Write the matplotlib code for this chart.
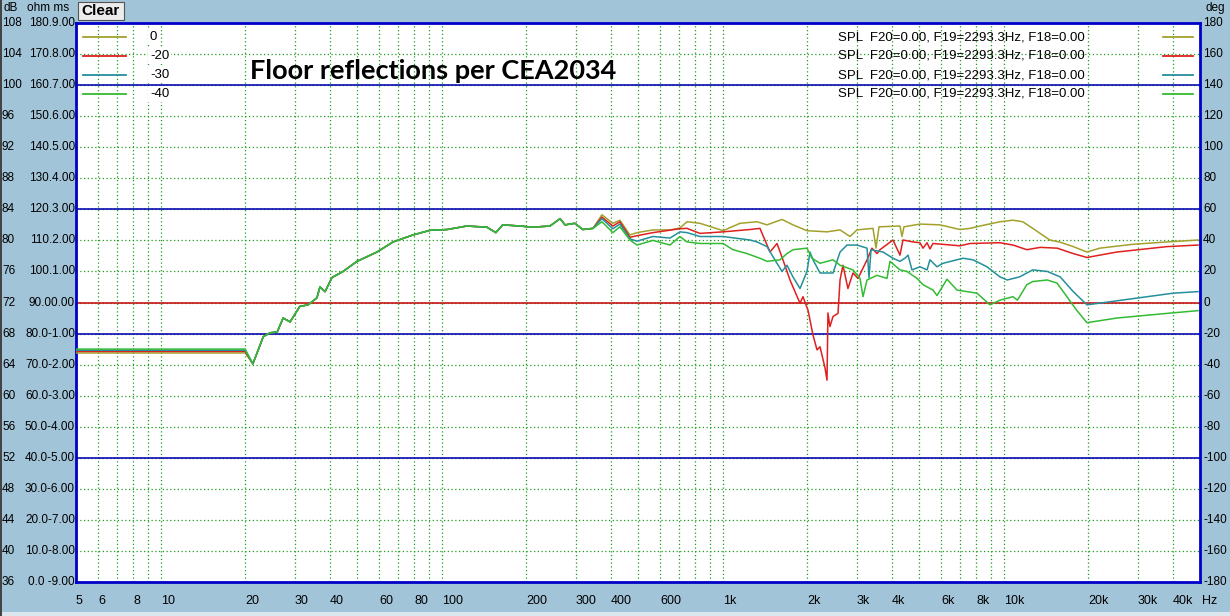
import matplotlib
matplotlib.use("Agg")
import matplotlib.pyplot as plt
import matplotlib.transforms as mtransforms
import numpy as np

W, H = 1230, 616

# --- data -------------------------------------------------------------------
# below 20 Hz every trace is flat
freq_lf = [5, 20]
level_lf = {"0": 65.5, "-20": 65.7, "-30": 65.85, "-40": 66.0}

# 20 Hz .. 350 Hz, all four traces lie on top of each other
freq_common = [21.3, 23.2, 24.5, 26.0, 27.3, 28.9, 31.3, 33.5, 36.0, 36.9, 38.5,
               40.7, 44.6, 50.0, 58.9, 67.2, 79.1, 91.0, 104.6, 123, 145, 156,
               165, 190, 211, 243, 264, 275, 298, 318, 346]
spl_common = [64.1, 67.6, 68.1, 68.2, 70.0, 69.5, 71.5, 71.7, 72.6, 74.0, 73.4,
              75.2, 76.0, 77.3, 78.5, 79.8, 80.7, 81.3, 81.4, 81.85, 81.7, 81.0,
              82.0, 81.85, 81.7, 81.85, 82.8, 82.0, 82.2, 81.4, 81.55]

freq_0 = [372, 407, 431, 468, 496, 565, 650, 705, 747, 831, 1004, 1153, 1326,
          1439, 1627, 1780, 1997, 2353, 2618, 2840, 3007, 3430, 3515, 3603,
          4278, 4350, 4420, 5040, 5940, 6995, 7595, 8240, 9705, 10800, 11700,
          12700, 14600, 15800, 17700, 19800, 22000, 28900, 38200, 49200]
spl_0 = [83.3, 82.2, 82.6, 80.7, 81.0, 81.35, 81.35, 81.6, 82.4, 82.2, 81.25,
         82.2, 82.4, 82.0, 82.7, 82.0, 81.25, 81.1, 81.35, 80.5, 81.35, 81.55,
         79.0, 81.75, 81.85, 80.5, 81.75, 82.1, 82.0, 81.4, 81.55, 81.85, 82.4,
         82.6, 82.4, 81.55, 80.05, 79.8, 79.2, 78.5, 79.0, 79.5, 79.8, 80.05]

freq_20 = [372, 407, 431, 468, 496, 565, 705, 747, 831, 1004, 1251, 1358, 1475,
           1562, 1640, 1737, 1886, 1932, 2014, 2098, 2168, 2222, 2314, 2353,
           2371, 2410, 2472, 2575, 2618, 2681, 2793, 2911, 3034, 3266, 3401,
           3544, 3632, 4040, 4278, 4385, 4760, 5040, 5166, 5340, 5470, 5607,
           6995, 7595, 9705, 10800, 12100, 13500, 15500, 17700, 19800, 25300,
           38200, 49200]
spl_20 = [83.0, 81.85, 82.4, 80.4, 80.6, 81.0, 81.5, 81.55, 80.9, 81.1, 81.4,
          81.55, 78.5, 79.6, 77.5, 74.9, 71.9, 72.75, 71.0, 67.8, 65.9, 66.3,
          63.6, 62.0, 70.65, 68.9, 70.2, 70.6, 74.9, 76.8, 73.8, 75.8, 75.1,
          77.5, 79.0, 78.3, 78.8, 80.05, 78.1, 80.05, 79.8, 79.7, 79.0, 79.7,
          78.9, 79.6, 79.3, 79.6, 79.7, 79.4, 78.8, 79.1, 79.0, 78.3, 77.8,
          78.5, 79.2, 79.4]

freq_30 = [372, 407, 431, 468, 496, 565, 650, 705, 747, 831, 1004, 1251, 1326,
           1439, 1511, 1627, 1695, 1780, 1886, 1997, 2047, 2098, 2222, 2472,
           2618, 2771, 3007, 3266, 3320, 3374, 3725, 4040, 4278, 4457, 4570,
           4720, 5040, 5340, 5470, 5795, 6087, 7170, 7780, 8730, 9705, 10300,
           11400, 12700, 14300, 15900, 17700, 19800, 28900, 40100, 49200]
spl_30 = [82.8, 81.5, 82.1, 80.2, 79.9, 80.5, 80.3, 81.1, 81.0, 80.5, 80.5,
          80.05, 79.8, 79.2, 77.9, 76.0, 76.8, 75.3, 73.8, 76.0, 78.5, 77.5,
          75.8, 75.8, 78.5, 79.4, 79.4, 79.0, 75.2, 78.8, 78.5, 77.7, 77.3,
          77.7, 78.1, 76.2, 76.6, 76.2, 77.5, 76.6, 77.05, 77.7, 77.5, 76.6,
          75.3, 74.9, 75.3, 76.2, 76.0, 75.3, 73.4, 71.7, 72.5, 73.2, 73.4]

freq_40 = [372, 407, 431, 468, 496, 565, 650, 705, 747, 831, 1004, 1089, 1222,
           1358, 1439, 1601, 1695, 1780, 1997, 2081, 2222, 2472, 2618, 2911,
           3083, 3160, 3266, 3544, 3846, 3942, 4278, 4530, 4920, 5166, 5607,
           5795, 6290, 6826, 8045, 8944, 9705, 10800, 11200, 12100, 12700,
           14300, 15500, 16800, 18200, 19800, 25300, 38200, 49200]
spl_40 = [82.4, 81.0, 81.75, 80.05, 79.4, 80.0, 79.4, 80.5, 79.8, 79.6, 79.6,
          78.8, 78.3, 77.7, 77.3, 77.5, 78.3, 78.8, 79.0, 77.7, 77.05, 77.5,
          76.8, 76.2, 75.1, 72.75, 74.9, 75.5, 75.1, 77.3, 76.2, 76.0, 75.1,
          74.3, 73.6, 72.9, 75.0, 73.6, 73.2, 71.7, 72.3, 72.75, 72.3, 74.3,
          74.7, 74.9, 74.5, 72.75, 71.0, 69.4, 70.0, 70.6, 70.95]

labels = ["0", "-20", "-30", "-40"]
colors = ["#a3a12c", "#e01f1f", "#24909c", "#33bb33"]
series_hf = [(freq_0, spl_0), (freq_20, spl_20), (freq_30, spl_30), (freq_40, spl_40)]

db_ticks = list(range(108, 35, -4))
ohm_ticks = list(range(180, -1, -10))
ms_ticks = [9 - i for i in range(19)]
deg_ticks = list(range(180, -181, -20))
x_ticks = [5, 6, 8, 10, 20, 30, 40, 60, 80, 100, 200, 300, 400, 600,
           1000, 2000, 3000, 4000, 6000, 8000, 10000, 20000, 30000, 40000]
x_ticklabels = ["5", "6", "8", "10", "20", "30", "40", "60", "80", "100", "200",
                "300", "400", "600", "1k", "2k", "3k", "4k", "6k", "8k", "10k",
                "20k", "30k", "40k"]
legend_note = "SPL  F20=0.00, F19=2293.3Hz, F18=0.00"

# --- figure -----------------------------------------------------------------
plt.rcParams["font.family"] = ["Liberation Sans", "DejaVu Sans"]
bg = "#a2c4d9"
fig = plt.figure(figsize=(W / 100, H / 100), dpi=100, facecolor=bg)


def px(x, y):
    # pixel position of the screenshot -> figure fraction
    return x / W, 1 - y / H


left, top, right, bottom = 76, 23, 1200, 582
ax = fig.add_axes([left / W, 1 - bottom / H, (right - left) / W, (bottom - top) / H])
ax.set_xscale("log")
ax.set_xlim(5, 50000)
ax.set_ylim(36, 108)
ax.set_xticks([])
ax.set_yticks([])
ax.minorticks_off()
for s in ax.spines.values():
    s.set_color("#0000c8")
    s.set_linewidth(2.0)

# grid
grid_kw = dict(color="#1e9e1e", linestyle=(0, (1, 2)), linewidth=0.9, zorder=1)
for dec in [1, 10, 100, 1000, 10000]:
    for m in range(1, 10):
        f = m * dec
        if 5 < f < 50000:
            ax.axvline(f, **grid_kw)
for d in db_ticks[1:-1]:
    ax.axhline(d, **grid_kw)
for d in [100, 84, 68, 52]:
    ax.axhline(d, color="#0a0ab4", linewidth=1.2, zorder=2)
ax.axhline(72, color="#c81414", linewidth=1.2, zorder=2)

# traces
for lab, col, (f_hf, s_hf) in zip(labels, colors, series_hf):
    f_all = freq_lf + freq_common + f_hf
    s_all = [level_lf[lab]] * len(freq_lf) + spl_common + s_hf
    ax.plot(f_all, s_all, color=col, linewidth=1.1, zorder=3)

# legends
for i, (lab, col) in enumerate(zip(labels, colors)):
    y = 37 + i * 19
    fig.add_artist(plt.Line2D([83 / W, 126 / W], [1 - y / H] * 2, color=col, linewidth=1.3))
    fig.text(*px(150, y), lab, fontsize=9.5, va="center", ha="left",
             bbox=dict(facecolor="white", edgecolor="none", pad=1.5))
    fig.text(*px(838, y), legend_note, fontsize=9.5, va="center", ha="left")
    fig.add_artist(plt.Line2D([1163 / W, 1193 / W], [1 - y / H] * 2, color=col, linewidth=1.3))

fig.text(*px(250, 79), "Floor reflections per CEA2034", fontsize=19.5,
         fontweight="bold", family="Lato", va="baseline", ha="left")

# left axis labels: dB / ohm / ms
ytr = mtransforms.blended_transform_factory(fig.transFigure, ax.transData)
for d, o, m in zip(db_ticks, ohm_ticks, ms_ticks):
    o_txt = f"{o}." if o >= 100 else (f"{o}.0" if o >= 10 else f"{o}.0 ")
    fig.text(2 / W, d, str(d), transform=ytr, fontsize=8.5, va="center", ha="left")
    fig.text(75 / W, d, o_txt + f"{m:.2f}", transform=ytr, fontsize=8.5,
             va="center", ha="right")
fig.text(*px(3, 8), "dB", fontsize=8.5, va="center", ha="left")
fig.text(*px(27, 8), "ohm ms", fontsize=8.5, va="center", ha="left")

# right axis labels: phase
dtr = mtransforms.blended_transform_factory(fig.transFigure, ax.transAxes)
for i, g in enumerate(deg_ticks):
    fig.text(1203 / W, 1 - i / (len(deg_ticks) - 1), str(g), transform=dtr,
             fontsize=8.5, va="center", ha="left")
fig.text(*px(1205, 8), "deg", fontsize=8.5, va="center", ha="left")

# frequency labels
xtr = mtransforms.blended_transform_factory(ax.transData, fig.transFigure)
for f, lab in zip(x_ticks, x_ticklabels):
    fig.text(f, 1 - 601 / H, lab, transform=xtr, fontsize=9, va="center", ha="left")
fig.text(*px(1202, 601), "Hz", fontsize=9, va="center", ha="left")

# "Clear" button
fig.add_artist(plt.Rectangle(px(78, 20), 46 / W, 18 / H, facecolor="#ececec",
                             edgecolor="#555555", linewidth=0.8))
fig.text(*px(101, 11), "Clear", fontsize=11, fontweight="bold", va="center", ha="center")

# window edges
fig.add_artist(plt.Rectangle((0, 0), 1, 4 / H, facecolor="#dbe6ef", edgecolor="none"))
fig.add_artist(plt.Rectangle((0, 0), 2 / W, 1, facecolor="#444444", edgecolor="none"))

fig.savefig("out.png", dpi=100, facecolor=bg)
